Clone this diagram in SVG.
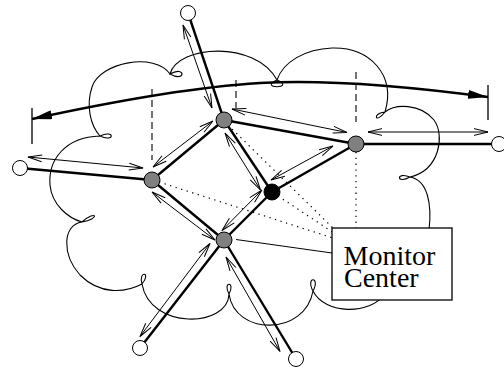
<svg xmlns="http://www.w3.org/2000/svg" width="504" height="370" viewBox="0 0 504 370">
<style>
.cloud{fill:none;stroke:#000;stroke-width:1.1}
.dash{stroke:#000;stroke-width:1.1;stroke-dasharray:7,4;fill:none}
.dot{stroke:#000;stroke-width:1.2;stroke-dasharray:1.3,4.5;fill:none}
.edge{stroke:#000;stroke-width:2.4;fill:none}
.arr{stroke:#000;stroke-width:1;fill:none;marker-start:url(#open);marker-end:url(#open)}
.big{stroke:#000;stroke-width:2.4;fill:none;marker-start:url(#solid);marker-end:url(#solid)}
.bar{stroke:#000;stroke-width:1.3}
.grey{fill:#808080;stroke:#000;stroke-width:1}
.white{fill:#fff;stroke:#000;stroke-width:1}
.black{fill:#000;stroke:#000;stroke-width:1}
.thin{stroke:#000;stroke-width:1;fill:none}
text{font-family:"Liberation Serif","Times New Roman",serif;font-size:28px;fill:#000}
</style>
<defs>
<marker id="open" viewBox="0 0 14 8" refX="14" refY="4" markerWidth="14" markerHeight="8" markerUnits="userSpaceOnUse" orient="auto-start-reverse" overflow="visible">
<path d="M0,0.6 L14,4 L0,7.4" fill="none" stroke="#000" stroke-width="1"/>
</marker>
<marker id="solid" viewBox="0 0 20 9" refX="20" refY="4.5" markerWidth="20" markerHeight="9" markerUnits="userSpaceOnUse" orient="auto-start-reverse">
<path d="M0,0 L20,4.5 L0,9 Z" fill="#000"/>
</marker>
</defs>

<g id="cloud">
<path class="cloud" d="M170,74 C186,83 186,65 170,74 C178,45 255,40 277,80 C297,89 257,89 277,80 C283,62 305,49 332,48 C370,47 396,75 385,112 C372,113 375,125 385,112 C395,104 420,103 434,120 C445,135 440,170 410,177 C396,171 396,185 410,177 C428,180 432,205 429,230 C428,265 420,292 385,294 C370,315 325,315 313,291 C305,276 321,276 313,291 C305,336 235,336 229,294 C222,281 236,281 229,294 C228,328 150,330 142,284 C138,270 152,272 142,284 C125,293 100,295 80,275 C62,255 62,225 82,222 C97,209 100,219 82,222 C68,218 52,205 50,185 C48,160 65,137 100,136 C115,129 115,143 100,136 C90,125 86,105 92,87 C100,62 155,52 170,74 Z"/>
</g>

<g id="guides">
<line class="dash" x1="152" y1="89" x2="152" y2="160"/>
<line class="dash" x1="236" y1="80" x2="236" y2="108"/>
<line class="dash" x1="356" y1="72" x2="356" y2="122"/>
<line class="dot" x1="356" y1="152" x2="356" y2="228"/>
<line class="dot" x1="228" y1="125" x2="334" y2="229"/>
<line class="dot" x1="278" y1="196" x2="334" y2="233"/>
<line class="dot" x1="159" y1="182" x2="333" y2="238"/>
</g>

<g id="span">
<path class="big" d="M32,119 Q175,88 260,83 T488,97"/>
<line class="bar" x1="32" y1="108" x2="32" y2="144"/>
<line class="bar" x1="488" y1="85" x2="488" y2="120"/>
</g>

<g id="connectors">
<line class="edge" x1="188" y1="13" x2="224" y2="120"/>
<line class="edge" x1="20" y1="168" x2="152" y2="180"/>
<line class="edge" x1="224" y1="120" x2="152" y2="180"/>
<line class="edge" x1="224" y1="120" x2="356" y2="144"/>
<line class="edge" x1="224" y1="120" x2="272" y2="192"/>
<line class="edge" x1="152" y1="180" x2="224" y2="240"/>
<line class="edge" x1="224" y1="240" x2="272" y2="192"/>
<line class="edge" x1="272" y1="192" x2="356" y2="144"/>
<line class="edge" x1="356" y1="144" x2="499" y2="144"/>
<line class="edge" x1="224" y1="240" x2="140" y2="348"/>
<line class="edge" x1="224" y1="240" x2="296" y2="359"/>
<line class="arr" x1="183" y1="25" x2="212" y2="108"/>
<line class="arr" x1="28" y1="157" x2="143" y2="168"/>
<line class="arr" x1="153" y1="167" x2="213" y2="121"/>
<line class="arr" x1="232" y1="109" x2="347" y2="132.5"/>
<line class="arr" x1="368" y1="132" x2="488" y2="132"/>
<line class="arr" x1="225" y1="133" x2="260.5" y2="190"/>
<line class="arr" x1="271" y1="180" x2="333" y2="146"/>
<line class="arr" x1="152" y1="192" x2="215" y2="240"/>
<line class="arr" x1="262" y1="190" x2="222" y2="230.5"/>
<line class="arr" x1="210" y1="243.5" x2="140" y2="336.5"/>
<line class="arr" x1="226" y1="257" x2="280" y2="351.5"/>
<line class="thin" x1="236" y1="239.5" x2="332" y2="253"/>
</g>

<g id="node-top"><circle class="white" cx="188" cy="13" r="7.5"/></g>
<g id="node-left"><circle class="white" cx="20" cy="168" r="7.5"/></g>
<g id="node-right"><circle class="white" cx="499" cy="144" r="7.5"/></g>
<g id="node-bl"><circle class="white" cx="140" cy="348" r="7.5"/></g>
<g id="node-br"><circle class="white" cx="296" cy="359" r="7.5"/></g>
<g id="node-A"><circle class="grey" cx="224" cy="120" r="8"/></g>
<g id="node-B"><circle class="grey" cx="152" cy="180" r="8"/></g>
<g id="node-C"><circle class="grey" cx="224" cy="240" r="8"/></g>
<g id="node-D"><circle class="grey" cx="356" cy="144" r="8"/></g>
<g id="node-E"><circle class="black" cx="272" cy="192" r="8"/></g>

<g id="monitor-center">
<rect x="332" y="228" width="120" height="72" fill="#fff" stroke="#000" stroke-width="1.3"/>
<text x="343.5" y="264.5">Monitor</text>
<text x="344" y="287">Center</text>
</g>
</svg>
